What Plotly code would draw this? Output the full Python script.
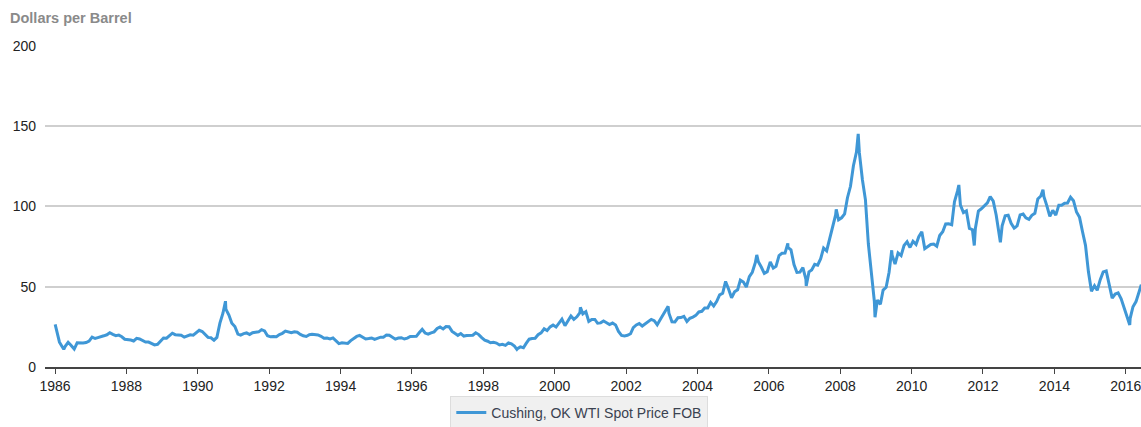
import pandas as pd
import plotly.graph_objects as go

# Monthly average WTI spot price (USD/bbl), read per year Jan..Dec
years = list(range(1986, 2017))
monthly = {
    1986: [22.93, 15.46, 12.61, 12.84, 15.38, 13.43, 11.59, 15.10, 14.87, 14.90, 15.22, 16.11],
    1987: [18.65, 17.75, 18.30, 18.68, 19.44, 20.07, 21.34, 20.31, 19.53, 19.86, 18.85, 17.28],
    1988: [17.13, 16.80, 16.20, 17.86, 17.42, 16.53, 15.50, 15.52, 14.54, 13.77, 14.14, 16.38],
    1989: [18.02, 17.94, 19.48, 21.07, 20.12, 20.05, 19.78, 18.58, 19.59, 20.10, 19.86, 21.10],
    1990: [22.86, 22.11, 20.39, 18.43, 18.20, 16.70, 18.45, 27.31, 33.51, 36.04, 32.33, 27.28],
    1991: [25.23, 20.48, 19.90, 20.83, 21.23, 20.19, 21.40, 21.69, 21.89, 23.23, 22.46, 19.50],
    1992: [18.79, 19.01, 18.92, 20.23, 20.98, 22.39, 21.78, 21.34, 21.88, 21.69, 20.34, 19.41],
    1993: [19.03, 20.09, 20.32, 20.25, 19.95, 19.09, 17.89, 18.01, 17.50, 18.15, 16.61, 14.52],
    1994: [15.03, 14.78, 14.68, 16.42, 17.89, 19.06, 19.66, 18.38, 17.45, 17.72, 18.07, 17.16],
    1995: [18.04, 18.57, 18.54, 19.90, 19.74, 18.45, 17.33, 18.02, 18.23, 17.43, 17.99, 19.03],
    1996: [18.86, 19.09, 21.33, 23.50, 21.17, 20.42, 21.30, 21.90, 23.97, 24.88, 23.71, 25.23],
    1997: [25.13, 22.18, 20.97, 19.70, 20.82, 19.26, 19.66, 19.95, 19.80, 21.33, 20.19, 18.33],
    1998: [16.72, 16.06, 15.12, 15.35, 14.91, 13.72, 14.17, 13.47, 15.03, 14.46, 13.00, 11.35],
    1999: [12.52, 12.01, 14.68, 17.31, 17.72, 17.92, 20.10, 21.28, 23.80, 22.69, 25.00, 26.10],
    2000: [24.89, 27.26, 29.79, 25.73, 28.79, 31.82, 29.70, 31.26, 33.88, 33.11, 34.42, 28.44],
    2001: [29.59, 29.61, 27.25, 27.49, 28.63, 27.60, 26.43, 27.37, 26.20, 22.17, 19.64, 19.39],
    2002: [19.72, 20.72, 24.53, 26.18, 27.04, 25.52, 26.97, 28.39, 29.66, 28.84, 26.35, 29.46],
    2003: [32.95, 35.83, 33.51, 28.17, 28.11, 30.66, 30.76, 31.57, 28.31, 30.34, 31.11, 32.13],
    2004: [34.31, 34.69, 36.74, 36.75, 40.28, 38.03, 40.78, 44.90, 45.94, 53.28, 48.47, 43.15],
    2005: [46.84, 48.15, 54.19, 52.98, 49.83, 56.35, 59.00, 64.99, 65.59, 62.26, 58.32, 59.41],
    2006: [65.49, 61.63, 62.69, 69.44, 70.84, 70.95, 74.41, 73.04, 63.80, 58.89, 59.08, 61.96],
    2007: [54.51, 59.28, 60.44, 63.98, 63.46, 67.49, 74.12, 72.36, 79.92, 85.80, 94.77, 91.69],
    2008: [92.97, 95.39, 105.45, 112.58, 125.40, 133.88, 133.37, 116.67, 104.11, 76.61, 57.31, 41.12],
    2009: [41.71, 39.09, 47.94, 49.65, 59.03, 69.64, 64.15, 71.05, 69.41, 75.72, 77.99, 74.47],
    2010: [78.33, 76.39, 81.20, 84.29, 73.74, 75.34, 76.32, 76.60, 75.24, 81.89, 84.25, 89.15],
    2011: [89.17, 88.58, 102.86, 109.53, 100.90, 96.26, 97.30, 86.33, 85.52, 86.32, 97.16, 98.56],
    2012: [100.27, 102.20, 106.16, 103.32, 94.66, 82.30, 87.90, 94.13, 94.51, 89.49, 86.53, 87.86],
    2013: [94.76, 95.31, 92.94, 92.02, 94.51, 95.77, 104.67, 106.57, 106.29, 100.54, 93.86, 97.63],
    2014: [94.62, 100.82, 100.80, 102.07, 102.18, 105.79, 103.59, 96.54, 93.21, 84.40, 75.79, 59.29],
    2015: [47.22, 50.58, 47.82, 54.45, 59.27, 59.82, 50.90, 42.87, 45.48, 46.22, 42.44, 37.19],
    2016: [31.68, 30.32, 37.55, 40.75, 46.71, 48.76],
}

# Daily extremes visible in the chart
extreme_dates = ["1986-01-02", "1986-03-31", "1986-07-16", "1990-10-11", "1998-12-10",
                 "2000-09-20", "2003-03-07", "2005-08-30", "2006-07-14", "2007-01-18",
                 "2007-11-21", "2008-07-03", "2008-12-22", "2009-06-11", "2011-04-29",
                 "2011-10-04", "2012-06-27", "2013-09-06", "2016-02-11", "2016-06-08"]
extreme_values = [26.5, 11.0, 11.2, 41.0, 11.0,
                  37.2, 37.8, 69.8, 77.0, 50.5,
                  98.2, 145.3, 31.0, 72.7, 113.4,
                  75.7, 77.7, 110.5, 26.2, 51.2]

series_name = "Cushing, OK WTI Spot Price FOB"

dates, vals = [], []
for y in years:
    for m, v in enumerate(monthly[y], start=1):
        dates.append(pd.Timestamp(year=y, month=m, day=15))
        vals.append(v)
for d, v in zip(extreme_dates, extreme_values):
    dates.append(pd.Timestamp(d))
    vals.append(v)
df = pd.DataFrame({"date": dates, "price": vals}).sort_values("date")

fig = go.Figure()
fig.add_trace(go.Scatter(
    x=df["date"], y=df["price"], mode="lines", name=series_name,
    line=dict(color="#3F97D6", width=3), showlegend=True,
))

font_family = "Arial, Liberation Sans, Helvetica, sans-serif"
fig.update_layout(
    width=1141, height=427,
    margin=dict(l=45, r=0, t=45, b=60, autoexpand=False),
    paper_bgcolor="white", plot_bgcolor="white",
    font=dict(family=font_family, size=14, color="#222"),
    showlegend=True,
    legend=dict(
        orientation="h", x=0.4875, xanchor="center", y=-0.09, yanchor="top",
        bgcolor="#F0F0F0", bordercolor="#DDDDDD", borderwidth=1,
        font=dict(size=14, color="#3a4250", family=font_family),
    ),
    xaxis=dict(
        type="date", range=["1985-09-20", "2016-06-05"], automargin=False,
        tick0="1986-01-01", dtick="M24", tickformat="%Y",
        showgrid=False, showline=True, linecolor="#444", linewidth=1.5,
        ticks="outside", ticklen=5, tickcolor="#444", tickwidth=1,
        tickfont=dict(size=14, color="#222"), zeroline=False,
        ticklabeloverflow="allow",
    ),
    yaxis=dict(
        range=[0, 200.6], tickvals=[0, 50, 100, 150, 200], automargin=False,
        showgrid=True, gridcolor="#CFCFCF", gridwidth=1.5,
        zeroline=False, showline=False, ticks="", ticklabelstandoff=8,
        tickfont=dict(size=14, color="#222"),
    ),
    annotations=[dict(
        text="<b>Dollars per Barrel</b>", xref="paper", yref="paper",
        x=-0.034, y=1.085, xanchor="left", yanchor="middle", showarrow=False,
        font=dict(size=14.5, color="#8a8a8a", family=font_family),
    )],
)

fig.write_html("out.html", config={"displayModeBar": False},
               post_script="document.body.style.margin='0px';document.body.style.overflow='hidden';")
